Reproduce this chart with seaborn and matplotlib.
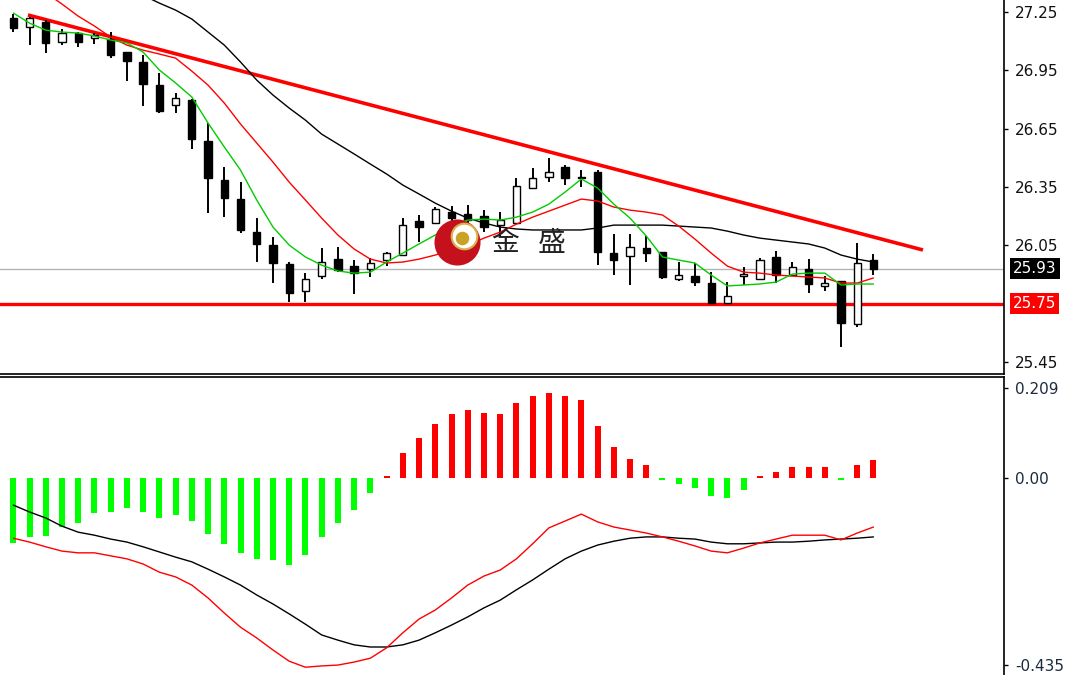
import numpy as np
import seaborn as sns
import matplotlib.pyplot as plt
from matplotlib.transforms import blended_transform_factory

sns.set_style("white")
plt.rcParams['font.family'] = ['DejaVu Sans']

# daily candles, oldest first
opens = [27.219, 27.173, 27.199, 27.096, 27.142, 27.116, 27.111, 27.044, 26.993, 26.874,
         26.772, 26.797, 26.586, 26.386, 26.288, 26.118, 26.051, 25.954, 25.815, 25.892,
         25.979, 25.943, 25.928, 25.974, 26.000, 26.175, 26.163, 26.221, 26.211, 26.201,
         26.152, 26.165, 26.345, 26.401, 26.453, 26.401, 26.427, 26.010, 25.995, 26.036,
         26.015, 25.877, 25.892, 25.856, 25.753, 25.892, 25.877, 25.990, 25.897, 25.928,
         25.841, 25.866, 25.645, 25.974]
highs = [27.240, 27.224, 27.209, 27.163, 27.147, 27.142, 27.147, 27.044, 27.029, 26.936,
         26.833, 26.802, 26.679, 26.453, 26.375, 26.190, 26.093, 25.964, 25.907, 26.036,
         26.041, 25.974, 25.985, 26.015, 26.190, 26.206, 26.247, 26.252, 26.257, 26.232,
         26.221, 26.396, 26.448, 26.499, 26.463, 26.437, 26.437, 26.108, 26.108, 26.098,
         26.015, 25.964, 25.959, 25.912, 25.861, 25.938, 25.985, 26.021, 25.964, 25.979,
         25.892, 25.866, 26.062, 26.005]
lows = [27.147, 27.080, 27.039, 27.080, 27.070, 27.085, 27.013, 26.895, 26.766, 26.730,
        26.730, 26.545, 26.216, 26.195, 26.113, 25.964, 25.856, 25.758, 25.758, 25.877,
        25.912, 25.799, 25.887, 25.943, 26.000, 26.067, 26.163, 26.132, 26.127, 26.118,
        26.093, 26.165, 26.345, 26.375, 26.360, 26.350, 25.949, 25.897, 25.846, 25.964,
        25.877, 25.866, 25.841, 25.753, 25.753, 25.846, 25.877, 25.856, 25.897, 25.805,
        25.815, 25.527, 25.630, 25.897]
closes = [27.168, 27.219, 27.091, 27.142, 27.096, 27.132, 27.029, 26.998, 26.880, 26.741,
          26.808, 26.597, 26.396, 26.293, 26.129, 26.057, 25.959, 25.805, 25.877, 25.964,
          25.923, 25.907, 25.959, 26.010, 26.154, 26.144, 26.237, 26.190, 26.180, 26.144,
          26.178, 26.355, 26.396, 26.427, 26.396, 26.396, 26.015, 25.974, 26.041, 26.010,
          25.887, 25.897, 25.861, 25.753, 25.789, 25.902, 25.974, 25.897, 25.938, 25.851,
          25.856, 25.650, 25.959, 25.928]

# moving averages
ma_fast = [27.245, 27.193, 27.157, 27.147, 27.142, 27.127, 27.106, 27.091, 27.044, 26.952,
           26.885, 26.813, 26.679, 26.556, 26.437, 26.283, 26.144, 26.051, 25.990, 25.948,
           25.918, 25.907, 25.912, 25.964, 26.010, 26.057, 26.103, 26.154, 26.180, 26.185,
           26.180, 26.195, 26.221, 26.262, 26.324, 26.391, 26.345, 26.262, 26.190, 26.098,
           25.990, 25.974, 25.959, 25.897, 25.841, 25.846, 25.851, 25.861, 25.902, 25.907,
           25.907, 25.846, 25.851, 25.851]
ma_mid = [27.470, 27.410, 27.350, 27.291, 27.229, 27.178, 27.121, 27.080, 27.054, 27.034,
          27.013, 26.946, 26.874, 26.782, 26.674, 26.576, 26.478, 26.375, 26.283, 26.190,
          26.103, 26.031, 25.979, 25.959, 25.964, 25.979, 26.000, 26.026, 26.051, 26.087,
          26.118, 26.159, 26.195, 26.226, 26.257, 26.288, 26.278, 26.247, 26.231, 26.221,
          26.206, 26.149, 26.082, 26.010, 25.943, 25.912, 25.907, 25.897, 25.892, 25.887,
          25.882, 25.856, 25.856, 25.882]
ma_slow = [27.543, 27.528, 27.507, 27.487, 27.461, 27.435, 27.404, 27.373, 27.336, 27.296,
           27.260, 27.214, 27.147, 27.080, 26.993, 26.900, 26.823, 26.756, 26.694, 26.622,
           26.571, 26.520, 26.468, 26.417, 26.360, 26.314, 26.267, 26.226, 26.190, 26.165,
           26.144, 26.134, 26.129, 26.129, 26.129, 26.129, 26.139, 26.154, 26.154, 26.154,
           26.154, 26.149, 26.144, 26.139, 26.123, 26.103, 26.087, 26.077, 26.067, 26.057,
           26.036, 26.000, 25.979, 25.964]

# MACD panel
hist = [-0.152, -0.138, -0.134, -0.113, -0.104, -0.082, -0.078, -0.069, -0.078, -0.092,
        -0.086, -0.100, -0.130, -0.153, -0.175, -0.188, -0.191, -0.202, -0.180, -0.138,
        -0.104, -0.074, -0.036, 0.004, 0.057, 0.092, 0.126, 0.149, 0.157, 0.152,
        0.148, 0.175, 0.190, 0.198, 0.190, 0.182, 0.121, 0.072, 0.045, 0.031,
        -0.005, -0.015, -0.023, -0.042, -0.046, -0.027, 0.004, 0.015, 0.026, 0.026,
        0.026, -0.004, 0.031, 0.042]
macd_main = [-0.063, -0.079, -0.093, -0.112, -0.126, -0.133, -0.142, -0.149, -0.160, -0.172,
             -0.184, -0.195, -0.212, -0.230, -0.249, -0.272, -0.293, -0.316, -0.340, -0.365,
             -0.377, -0.388, -0.393, -0.393, -0.388, -0.377, -0.360, -0.342, -0.323, -0.302,
             -0.284, -0.260, -0.237, -0.212, -0.188, -0.170, -0.156, -0.147, -0.140, -0.137,
             -0.137, -0.140, -0.142, -0.149, -0.153, -0.153, -0.151, -0.149, -0.149, -0.147,
             -0.144, -0.142, -0.140, -0.137]
macd_signal = [-0.140, -0.149, -0.160, -0.170, -0.174, -0.174, -0.181, -0.188, -0.200, -0.219,
               -0.230, -0.249, -0.279, -0.314, -0.347, -0.372, -0.400, -0.426, -0.440, -0.437,
               -0.435, -0.428, -0.419, -0.395, -0.360, -0.328, -0.307, -0.279, -0.249, -0.228,
               -0.214, -0.188, -0.153, -0.116, -0.100, -0.084, -0.102, -0.114, -0.121, -0.128,
               -0.137, -0.147, -0.158, -0.170, -0.174, -0.163, -0.151, -0.142, -0.133, -0.133,
               -0.133, -0.144, -0.128, -0.114]

trend_x = [0.9, 56.05]
trend_y = [27.235, 26.026]
support = 25.75
last_price = 25.93
price_ticks = [27.25, 26.95, 26.65, 26.35, 26.05, 25.45]
macd_ticks = [0.209, 0.0, -0.435]
macd_labels = ['0.209', '0.00', '-0.435']

bars = np.arange(len(closes))
o, h, l, c = (np.array(v) for v in (opens, highs, lows, closes))

fig = plt.figure(figsize=(10.66, 6.75), dpi=100)
ax = fig.add_axes([0, 0.4459, 0.9418, 0.5541])
ax2 = fig.add_axes([0, 0, 0.9418, 0.4415])

# --- price panel ---
ax.axhline(last_price, color='#b4b4b4', lw=1, zorder=1)
ax.axhline(support, color='#ff0000', lw=2.4, zorder=2)
ax.plot(trend_x, trend_y, color='#ff0000', lw=2.6, zorder=2, solid_capstyle='butt')

down = c < o
ax.vlines(bars, l, h, color='black', lw=1.4, zorder=3)
ax.bar(bars, np.maximum(np.abs(c - o), 0.004), bottom=np.minimum(o, c), width=0.45,
       color=np.where(down, 'black', 'white'), edgecolor='black', linewidth=1, zorder=4)

sns.lineplot(x=bars, y=ma_slow, ax=ax, color='black', linewidth=1, zorder=5)
sns.lineplot(x=bars, y=ma_mid, ax=ax, color='#ff0000', linewidth=1, zorder=5)
sns.lineplot(x=bars, y=ma_fast, ax=ax, color='#00cc00', linewidth=1, zorder=5)

ax.set_xlim(-0.82, 61.04)
ax.set_ylim(25.388, 27.312)

# watermark logo
ax.scatter([0.4552], [0.3529], s=1100, color='#c4111b', transform=ax.transAxes, zorder=10, linewidths=0)
ax.scatter([0.4622], [0.3690], s=340, color='white', edgecolors='#d6b24c', linewidths=1.5,
           transform=ax.transAxes, zorder=11)
ax.scatter([0.4602], [0.3650], s=95, color='#c9a227', transform=ax.transAxes, zorder=12, linewidths=0)
for xx, ch in [(0.503, '金'), (0.5498, '盛')]:
    ax.text(xx, 0.350, ch, transform=ax.transAxes, fontsize=20, color='#222222',
            ha='center', va='center', family=['Noto Sans CJK SC', 'DejaVu Sans'], zorder=12)

# --- MACD panel ---
hcol = ['#ff0000' if v > 0 else '#00ff00' for v in hist]
ax2.bar(bars, hist, width=0.37, color=hcol, linewidth=0, zorder=2)
sns.lineplot(x=bars, y=macd_main, ax=ax2, color='black', linewidth=1, zorder=3)
sns.lineplot(x=bars, y=macd_signal, ax=ax2, color='#ff0000', linewidth=1, zorder=3)
ax2.set_xlim(-0.82, 61.04)
ax2.set_ylim(-0.4581, 0.2349)

# axes styling like the terminal
for a in (ax, ax2):
    a.set_xticks([])
    a.set_xlabel('')
    a.set_ylabel('')
    a.yaxis.tick_right()
    a.tick_params(axis='y', direction='out', length=3, width=1, pad=5, labelsize=11, colors='black')
    a.spines['left'].set_visible(False)
    a.spines['right'].set_color('black')
    a.spines['right'].set_linewidth(1.2)
ax.spines['top'].set_visible(False)
ax.spines['bottom'].set_color('black')
ax.spines['bottom'].set_linewidth(1.2)
ax2.spines['bottom'].set_visible(False)
ax2.spines['top'].set_color('black')
ax2.spines['top'].set_linewidth(1.2)

ax.set_yticks(price_ticks)
ax.set_yticklabels([f'{t:.2f}' for t in price_ticks], color='#111111')
ax2.set_yticks(macd_ticks)
ax2.set_yticklabels(macd_labels, color='#1c2b3c')

trans = blended_transform_factory(ax.transAxes, ax.transData)
ax.text(1.009, last_price, f'{last_price:.2f}', transform=trans, color='white', fontsize=11,
        va='center', ha='left', clip_on=False,
        bbox=dict(boxstyle='square,pad=0.2', fc='black', ec='none'))
ax.text(1.009, support, f'{support:.2f}', transform=trans, color='white', fontsize=11,
        va='center', ha='left', clip_on=False,
        bbox=dict(boxstyle='square,pad=0.2', fc='#ff0000', ec='none'))

fig.savefig('out.png', dpi=100)
